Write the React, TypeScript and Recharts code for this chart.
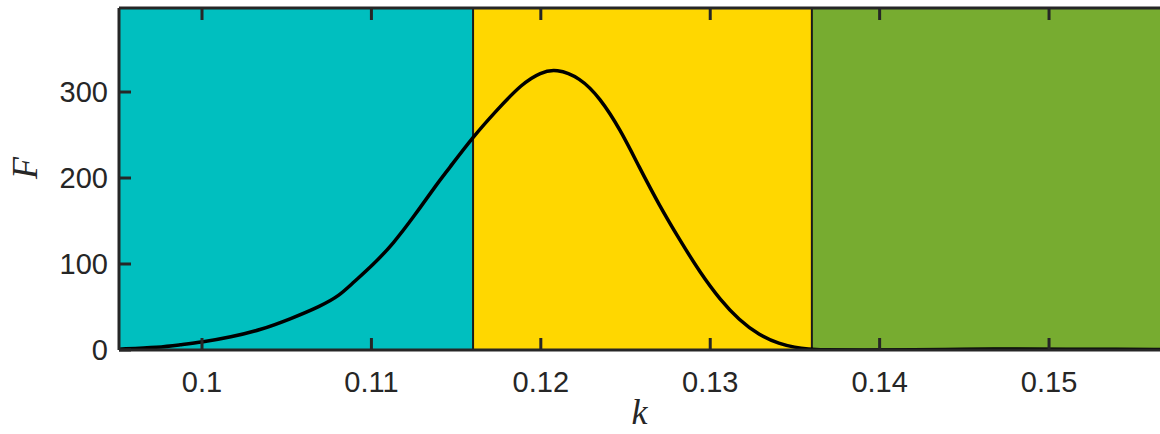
import React from 'react';
import { LineChart, Line, XAxis, YAxis, ReferenceArea, ReferenceLine } from 'recharts';

// k values and F values
const kValues = [
  0.0951, 0.0975, 0.0987, 0.1, 0.1017, 0.1034, 0.1052, 0.107, 0.1081, 0.1089,
  0.1101, 0.1113, 0.1125, 0.1139, 0.1145, 0.116, 0.1174, 0.1189, 0.12, 0.1209,
  0.1223, 0.1235, 0.1247, 0.1258, 0.127, 0.1282, 0.1294, 0.1306, 0.1317, 0.1329,
  0.1341, 0.135, 0.1358, 0.1365, 0.139, 0.142, 0.145, 0.148, 0.151, 0.154, 0.1566,
];
const fValues = [
  1, 3, 6, 9, 15, 23, 36, 51, 63, 78,
  99, 124, 155, 194, 209, 248, 279, 310, 323, 327,
  317, 293, 256, 213, 168, 128, 90, 58, 35, 17,
  7, 3, 1, 0, 0, 0.3, 1, 1.2, 1, 0.8, 0.6,
];

const xTicks = [0.1, 0.11, 0.12, 0.13, 0.14, 0.15];
const xTickLabels = ['0.1', '0.11', '0.12', '0.13', '0.14', '0.15'];
const yTicks = [0, 100, 200, 300];

const xDomain: [number, number] = [0.0951, 0.15655];
const yDomain: [number, number] = [0, 397.7];

// region edges and colours
const regionBounds = [0.0951, 0.116, 0.136, 0.15655];
const regionColors = ['#00BFBF', '#FFD700', '#77AC30'];

const data = kValues.map((k, i) => ({ k, F: fValues[i] }));

const AXIS = '#262626';
const FONT = '"Liberation Sans", Arial, Helvetica, sans-serif';
const SERIF = '"Liberation Serif", "Times New Roman", serif';
const FS = 29;
const TICK_LEN = 12;

const BottomTick = (props: any) => {
  const { x, y, payload } = props;
  const idx = xTicks.indexOf(payload.value);
  return (
    <text x={x} y={y + 40} textAnchor="middle" fill={AXIS} fontSize={FS} fontFamily={FONT}>
      {idx >= 0 ? xTickLabels[idx] : payload.value}
    </text>
  );
};

const LeftTick = (props: any) => {
  const { y, payload } = props;
  return (
    <text x={108} y={y + 10} textAnchor="end" fill={AXIS} fontSize={FS} fontFamily={FONT}>
      {payload.value}
    </text>
  );
};

// inward tick marks on bottom and top edges of a vertical reference line
const XTickShape = (props: any) => {
  const { x1, y1, y2 } = props;
  const top = Math.min(y1, y2);
  const bottom = Math.max(y1, y2);
  return (
    <g>
      <line x1={x1} x2={x1} y1={bottom} y2={bottom - TICK_LEN} stroke={AXIS} strokeWidth={3} />
      <line x1={x1} x2={x1} y1={top} y2={top + TICK_LEN} stroke={AXIS} strokeWidth={3} />
    </g>
  );
};

// inward tick mark on the left edge of a horizontal reference line
const YTickShape = (props: any) => {
  const { x1, x2, y1 } = props;
  const left = Math.min(x1, x2);
  return <line x1={left} x2={left + TICK_LEN} y1={y1} y2={y1} stroke={AXIS} strokeWidth={3} />;
};

export default function App() {
  return (
    <div style={{ position: 'absolute', left: 0, top: 0, width: 1160, height: 434 }}>
      <LineChart width={1160} height={434} data={data} margin={{ top: 8, right: 0, bottom: 0, left: 0 }}>
        {regionColors.map((c, i) => (
          <ReferenceArea
            key={c}
            x1={regionBounds[i]}
            x2={regionBounds[i + 1]}
            y1={yDomain[0]}
            y2={yDomain[1]}
            fill={c}
            fillOpacity={1}
            stroke="none"
            ifOverflow="hidden"
          />
        ))}
        {regionBounds.slice(1, -1).map((b) => (
          <ReferenceLine key={b} x={b} stroke="#1a1a1a" strokeWidth={2} />
        ))}
        <XAxis
          dataKey="k"
          type="number"
          domain={xDomain}
          ticks={xTicks}
          allowDataOverflow
          height={84}
          tickSize={0}
          tickLine={false}
          tick={<BottomTick />}
          axisLine={false}
          label={{
            value: 'k',
            position: 'insideBottom',
            offset: 10,
            fill: AXIS,
            fontSize: 36,
            fontStyle: 'italic',
            fontFamily: SERIF,
          }}
        />
        <YAxis
          type="number"
          domain={yDomain}
          ticks={yTicks}
          allowDataOverflow
          width={119}
          tickSize={0}
          tickLine={false}
          tick={<LeftTick />}
          axisLine={false}
          label={{
            value: 'F',
            angle: -90,
            position: 'insideLeft',
            offset: 24,
            fill: AXIS,
            fontSize: 36,
            fontStyle: 'italic',
            fontFamily: SERIF,
          }}
        />
        <Line
          type="basis"
          dataKey="F"
          stroke="#000"
          strokeWidth={3.5}
          dot={false}
          activeDot={false}
          isAnimationActive={false}
        />
        {/* box edges */}
        <ReferenceLine y={yDomain[0]} stroke={AXIS} strokeWidth={3} />
        <ReferenceLine y={yDomain[1]} stroke={AXIS} strokeWidth={3} />
        <ReferenceLine x={xDomain[0]} stroke={AXIS} strokeWidth={3} />
        {xTicks.map((t) => (
          <ReferenceLine key={`xt${t}`} x={t} shape={<XTickShape />} />
        ))}
        {yTicks.map((t) => (
          <ReferenceLine key={`yt${t}`} y={t} shape={<YTickShape />} />
        ))}
      </LineChart>
    </div>
  );
}
